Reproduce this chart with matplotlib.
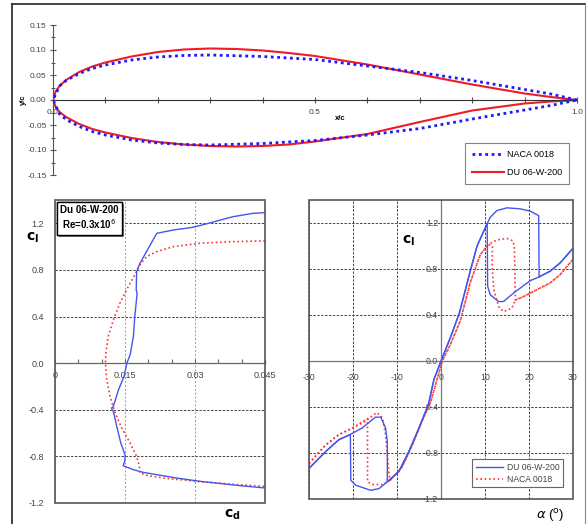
import matplotlib
matplotlib.use("Agg")
import matplotlib.pyplot as plt
import matplotlib.ticker as mticker
import matplotlib.patheffects as pe
from matplotlib.lines import Line2D

plt.rcParams['font.family'] = ['Liberation Sans', 'DejaVu Sans']
plt.rcParams['axes.unicode_minus'] = False

# airfoil coordinates (x/c, y/c)
naca_x = [0, 0.0125, 0.025, 0.05, 0.075, 0.1, 0.15, 0.2, 0.25, 0.3, 0.4, 0.5, 0.6, 0.7, 0.8, 0.9, 0.95, 1.0]
naca_yu = [0, 0.028, 0.039, 0.053, 0.063, 0.070, 0.080, 0.086, 0.089, 0.090, 0.087, 0.081, 0.068, 0.055, 0.039, 0.021, 0.012, 0.0]
naca_yl = [0, -0.028, -0.039, -0.053, -0.063, -0.070, -0.080, -0.086, -0.089, -0.090, -0.087, -0.081, -0.070, -0.057, -0.038, -0.020, -0.011, 0.0]

du_x = [0, 0.005, 0.0125, 0.025, 0.05, 0.075, 0.1, 0.15, 0.2, 0.25, 0.3, 0.35, 0.4, 0.45, 0.5, 0.6, 0.7, 0.8, 0.9, 0.95, 1.0]
du_yu = [0, 0.017, 0.028, 0.040, 0.056, 0.067, 0.075, 0.087, 0.096, 0.101, 0.103, 0.102, 0.099, 0.094, 0.088, 0.071, 0.051, 0.031, 0.013, 0.006, 0.0]
du_yl = [0, -0.014, -0.024, -0.034, -0.048, -0.058, -0.065, -0.076, -0.084, -0.089, -0.092, -0.093, -0.092, -0.089, -0.083, -0.068, -0.044, -0.021, -0.007, -0.003, 0.0]

# drag polars (cd, cl)
du_cd = [0.045, 0.0425, 0.0382, 0.0368, 0.0329, 0.0296, 0.0254, 0.0218, 0.0196, 0.0182, 0.0175,
         0.0174, 0.0176, 0.0171, 0.0168, 0.0161, 0.0154, 0.0148, 0.0136, 0.0125, 0.0121, 0.0125,
         0.0134, 0.0141, 0.015, 0.015, 0.0146, 0.0168, 0.0189, 0.0218, 0.0261, 0.0311, 0.0346, 0.0396, 0.045]
du_cl = [1.291, 1.286, 1.257, 1.243, 1.2, 1.166, 1.143, 1.114, 0.957, 0.857, 0.786,
         0.629, 0.6, 0.4, 0.229, 0.071, 0.0, -0.114, -0.229, -0.371, -0.386, -0.414,
         -0.571, -0.686, -0.786, -0.834, -0.88, -0.914, -0.937, -0.957, -0.986, -1.014, -1.029, -1.051, -1.071]

naca_cd = [0.045, 0.0382, 0.0311, 0.0254, 0.0218, 0.0196, 0.0182, 0.0171, 0.0157, 0.0139, 0.0125,
           0.0114, 0.0109, 0.0108, 0.0111, 0.0118, 0.0129, 0.0143, 0.0161, 0.0175, 0.0181, 0.0182,
           0.020, 0.0239, 0.0311, 0.0382, 0.045]
naca_cl = [1.049, 1.043, 1.029, 1.0, 0.957, 0.914, 0.843, 0.757, 0.657, 0.514, 0.371,
           0.229, 0.086, 0.0, -0.143, -0.286, -0.429, -0.557, -0.686, -0.8, -0.886, -0.943,
           -0.966, -0.989, -1.017, -1.04, -1.057]

# lift curves, increasing and decreasing angle of attack
du_a_up = [-30, -26.2, -23.2, -20.7, -17.9, -14.9, -13.7, -12.6, -12.2, -12.2, -9.6, -7.3, -5.0, -2.8, -1.6,
           0, 2.2, 4.2, 6.7, 8.2, 10.1, 11.2, 12.7, 15.0, 18.0, 20.3, 22.2, 22.3, 24.8, 27.1, 30]
du_cl_up = [-0.934, -0.787, -0.684, -0.64, -0.582, -0.488, -0.488, -0.582, -0.699, -1.05, -0.963, -0.787, -0.582, -0.37, -0.16,
            0.0, 0.21, 0.42, 0.79, 1.0, 1.162, 1.25, 1.308, 1.332, 1.323, 1.303, 1.264, 0.731, 0.781, 0.854, 0.98]
du_a_down = [30, 27.1, 24.8, 22.3, 20.3, 16.5, 14.2, 13.1, 11.2, 10.6, 10.5, 10.1, 8.2, 6.7, 4.2, 2.2, 0,
             -1.6, -2.8, -5.0, -7.3, -9.6, -12.2, -14.1, -16.0, -19.4, -20.5, -20.6, -23.2, -26.2, -30]
du_cl_down = [0.98, 0.854, 0.781, 0.731, 0.699, 0.591, 0.517, 0.517, 0.576, 0.649, 1.19, 1.162, 1.0, 0.79, 0.42, 0.21, 0.0,
              -0.16, -0.37, -0.582, -0.787, -0.963, -1.05, -1.11, -1.124, -1.08, -1.036, -0.64, -0.684, -0.787, -0.934]

naca_a_up = [-30, -26.2, -23.2, -20.1, -17.1, -15.2, -14.5, -13.3, -12.6, -12.2, -11.8, -11.5, -8.8, -6.5, -4.3, -2.4,
             0.3, 2.2, 4.4, 6.7, 8.96, 10.8, 12.7, 15.0, 16.4, 16.7, 16.9, 18.8, 21.8, 24.8, 27.1, 30]
naca_cl_up = [-0.89, -0.73, -0.64, -0.582, -0.523, -0.464, -0.45, -0.494, -0.64, -0.816, -0.99, -1.036, -0.919, -0.728, -0.523, -0.362,
              0.0, 0.15, 0.35, 0.69, 0.927, 1.015, 1.053, 1.065, 1.044, 0.97, 0.53, 0.561, 0.62, 0.679, 0.752, 0.884]
naca_a_down = [30, 27.1, 24.8, 21.8, 18.8, 16.9, 16.1, 14.2, 13.1, 12.0, 11.6, 11.7, 10.8, 8.96, 6.7, 4.4, 2.2, 0.3,
               -2.4, -4.3, -6.5, -8.8, -11.5, -13.3, -15.6, -16.7, -16.7, -20.1, -23.2, -26.2, -30]
naca_cl_down = [0.884, 0.752, 0.679, 0.62, 0.561, 0.53, 0.459, 0.429, 0.473, 0.62, 0.825, 1.0, 1.015, 0.927, 0.69, 0.35, 0.15, 0.0,
                -0.362, -0.523, -0.728, -0.919, -1.036, -1.074, -1.074, -1.05, -0.5, -0.582, -0.64, -0.73, -0.89]

AX_GRAY = '#555555'
TXT_GRAY = '#444444'

fig = plt.figure(figsize=(5.87, 5.24), dpi=100)

# --- top: airfoil shapes ---
ax0 = fig.add_axes([53 / 587, 1 - 175 / 524, 524 / 587, 150 / 524])
ax0.plot(du_x[::-1] + du_x[1:], du_yu[::-1] + du_yl[1:], color='#ee1c24', lw=1.5,
         label='DU 06-W-200', zorder=2)
ax0.plot(naca_x[::-1] + naca_x[1:], naca_yu[::-1] + naca_yl[1:], color='#1a1aff', lw=2.0,
         linestyle=(0, (1.0, 1.3)), label='NACA 0018', zorder=3)
ax0.set_xlim(0, 1.0)
ax0.set_ylim(-0.15, 0.15)
for s in ['top', 'right']:
    ax0.spines[s].set_visible(False)
ax0.spines['bottom'].set_position(('data', 0))
ax0.spines['left'].set_color(AX_GRAY)
ax0.spines['bottom'].set_color('#333333')
ax0.spines['left'].set_linewidth(0.8)
ax0.spines['bottom'].set_linewidth(0.8)
ax0.xaxis.set_major_locator(mticker.FixedLocator([0, 0.5, 1.0]))
ax0.xaxis.set_minor_locator(mticker.MultipleLocator(0.1))
ax0.xaxis.set_major_formatter(mticker.FormatStrFormatter('%.1f'))
ax0.yaxis.set_major_locator(mticker.MultipleLocator(0.05))
ax0.yaxis.set_minor_locator(mticker.MultipleLocator(0.025))
ax0.yaxis.set_major_formatter(mticker.FormatStrFormatter('%.2f'))
ax0.tick_params(which='both', direction='inout', length=5, width=0.8, color=AX_GRAY,
                labelsize=6, labelcolor=TXT_GRAY, pad=2)
ax0.tick_params(axis='y', which='minor', length=3)
ax0.tick_params(axis='x', which='major', pad=4)
fig.text(23 / 587, 1 - 100 / 524, 'y/c', rotation=90, fontsize=5.5, fontweight='bold',
         ha='center', va='center')
fig.text(340 / 587, 1 - 118 / 524, 'x/c', fontsize=5.5, fontweight='bold', ha='center', va='center')
h, l = ax0.get_legend_handles_labels()
leg0 = ax0.legend(h[::-1], l[::-1], loc='lower right', bbox_to_anchor=(569 / 587, 1 - 184 / 524),
                  bbox_transform=fig.transFigure, fancybox=False, fontsize=6.5, handlelength=3.5,
                  borderpad=0.8, labelspacing=1.0, handletextpad=0.3, borderaxespad=0)
leg0.get_frame().set_edgecolor('#666666')
leg0.get_frame().set_linewidth(0.8)


def frame_box(ax):
    ax.add_patch(plt.Rectangle((0, 0), 1, 1, transform=ax.transAxes, fill=False,
                               edgecolor=AX_GRAY, lw=1.2, zorder=5, clip_on=False))


# --- bottom left: drag polar ---
ax1 = fig.add_axes([55 / 587, 1 - 503 / 524, 210 / 587, 303 / 524])
ax1.plot(naca_cd, naca_cl, color='#ff3333', lw=1.2, linestyle=(0, (1, 1.6)), zorder=3)
ax1.plot(du_cd, du_cl, color='#4455ee', lw=1.0, zorder=4)
ax1.set_xlim(0, 0.045)
ax1.set_ylim(-1.2, 1.4)
for s in ['top', 'right', 'left']:
    ax1.spines[s].set_visible(False)
ax1.spines['bottom'].set_position(('data', 0))
ax1.spines['bottom'].set_color('#666666')
ax1.spines['bottom'].set_linewidth(0.9)
frame_box(ax1)
ax1.xaxis.set_major_locator(mticker.FixedLocator([0, 0.015, 0.03, 0.045]))
ax1.xaxis.set_major_formatter(mticker.FixedFormatter(['0', '0.015', '0.03', '0.045']))
ax1.xaxis.set_minor_locator(mticker.MultipleLocator(0.005))
ax1.yaxis.set_major_locator(mticker.FixedLocator([-1.2, -0.8, -0.4, 0.0, 0.4, 0.8, 1.2]))
ax1.yaxis.set_major_formatter(mticker.FormatStrFormatter('%.1f'))
ax1.tick_params(axis='x', which='both', direction='in', length=3, width=0.8, color='#666666',
                labelsize=6.5, labelcolor=TXT_GRAY, pad=6)
ax1.tick_params(axis='y', length=0, labelsize=6.5, labelcolor=TXT_GRAY, pad=8)
ax1.yaxis.grid(True, color='#444444', lw=0.7, linestyle=(0, (2.5, 1.5)))
ax1.xaxis.grid(True, which='major', color='#999999', lw=0.7, linestyle=(0, (2, 2)))
ax1.set_axisbelow(True)
t = ax1.text(0.024, 0.983, 'Du 06-W-200\nRe=0.3x10$^6$', transform=ax1.transAxes,
             ha='left', va='top', fontsize=7, fontweight='bold', multialignment='center', zorder=6,
             bbox=dict(boxstyle='square,pad=0.35', facecolor='white', edgecolor='black', lw=1.0))
t.get_bbox_patch().set_path_effects([pe.withSimplePatchShadow(offset=(1.5, -1.5),
                                                              shadow_rgbFace='#888888', alpha=1.0),
                                     pe.Normal()])
fig.text(33 / 587, 1 - 238 / 524, r'$\mathbf{c}_{\mathbf{l}}$', fontsize=10, ha='center', va='center')
fig.text(232 / 587, 1 - 515 / 524, r'$\mathbf{c}_{\mathbf{d}}$', fontsize=10, ha='center', va='center')

# --- bottom right: lift curves ---
ax2 = fig.add_axes([309 / 587, 1 - 499 / 524, 264 / 587, 299 / 524])
ax2.plot(du_a_up, du_cl_up, color='#4455ee', lw=1.0, zorder=4, label='DU 06-W-200')
ax2.plot(du_a_down, du_cl_down, color='#4455ee', lw=1.0, zorder=4)
ax2.plot(naca_a_up, naca_cl_up, color='#ff3333', lw=1.2, linestyle=(0, (1, 1.6)), zorder=3,
         label='NACA 0018')
ax2.plot(naca_a_down, naca_cl_down, color='#ff3333', lw=1.2, linestyle=(0, (1, 1.6)), zorder=3)
ax2.set_xlim(-30, 30)
ax2.set_ylim(-1.2, 1.4)
for s in ['top', 'right']:
    ax2.spines[s].set_visible(False)
ax2.spines['bottom'].set_position(('data', 0))
ax2.spines['left'].set_position(('data', 0))
for s in ['bottom', 'left']:
    ax2.spines[s].set_color('#777777')
    ax2.spines[s].set_linewidth(0.9)
frame_box(ax2)
ax2.xaxis.set_major_locator(mticker.MultipleLocator(10))
ax2.yaxis.set_major_locator(mticker.FixedLocator([-1.2, -0.8, -0.4, 0.0, 0.4, 0.8, 1.2]))
ax2.yaxis.set_major_formatter(mticker.FormatStrFormatter('%.1f'))
ax2.tick_params(axis='both', length=0, labelsize=6.3, labelcolor=TXT_GRAY)
ax2.tick_params(axis='x', pad=9)
ax2.tick_params(axis='y', pad=2)
ax2.grid(True, color='#444444', lw=0.7, linestyle=(0, (2.5, 1.5)))
ax2.set_axisbelow(True)
leg2 = ax2.legend(loc='lower right', bbox_to_anchor=(563 / 587, 1 - 487 / 524),
                  bbox_transform=fig.transFigure, fancybox=False, fontsize=6.2, handlelength=3.2,
                  borderpad=0.4, labelspacing=0.35, handletextpad=0.4, framealpha=1,
                  borderaxespad=0)
leg2.get_frame().set_edgecolor('#666666')
leg2.get_frame().set_linewidth(0.8)
for txt in leg2.get_texts():
    txt.set_color(TXT_GRAY)
fig.text(409 / 587, 1 - 241 / 524, r'$\mathbf{c}_{\mathbf{l}}$', fontsize=10, ha='center', va='center')
fig.text(550 / 587, 1 - 515 / 524, r'$\alpha$ ($^{\mathrm{o}}$)', fontsize=9.5, ha='center', va='center')

# outer frame of the figure
fig.add_artist(Line2D([12 / 587, 12 / 587], [0, 1 - 4 / 524], color='#222222', lw=1.2))
fig.add_artist(Line2D([12 / 587, 585 / 587], [1 - 4 / 524, 1 - 4 / 524], color='#222222', lw=1.2))
fig.add_artist(Line2D([585 / 587, 585 / 587], [0, 1 - 4 / 524], color='#888888', lw=0.8))

fig.savefig('out.png', dpi=100)
